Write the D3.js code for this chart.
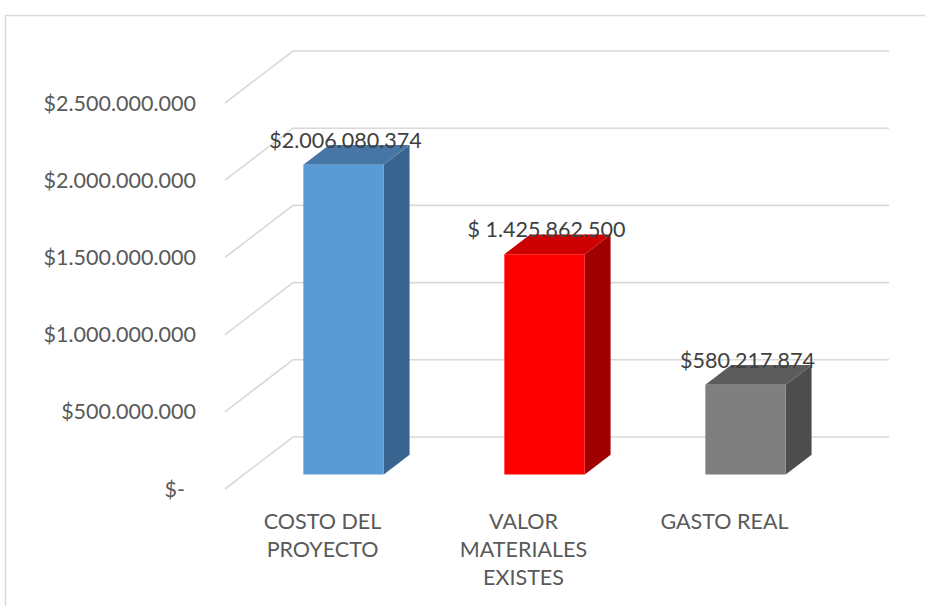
<!DOCTYPE html>
<html>
<head>
<meta charset="utf-8">
<script src="https://cdn.jsdelivr.net/npm/d3@7"></script>
<style>
  html, body { margin: 0; padding: 0; background: #fff; }
  svg { display: block; }
  text { font-family: Lato, "Open Sans", sans-serif; }
</style>
</head>
<body>
<svg id="chart" width="925" height="606"></svg>
<script>
// Project cost comparison (3D column chart)
const categories = ["COSTO DEL PROYECTO", "VALOR MATERIALES EXISTES", "GASTO REAL"];
const values = [2006080374, 1425862500, 580217874];
const valuePrefixes = ["$", "$ ", "$"];
const tickValues = [0, 500000000, 1000000000, 1500000000, 2000000000, 2500000000];
const tickLabels = ["$-", "$500.000.000", "$1.000.000.000", "$1.500.000.000", "$2.000.000.000", "$2.500.000.000"];
const frontColors = ["#5B9BD5", "#FF0000", "#7F7F7F"];
const topColors = ["#4676A6", "#CC0000", "#5C5C5C"];
const sideColors = ["#3A6490", "#A00000", "#4D4D4D"];

const svg = d3.select("#chart");
const FONT = 21.5;

// oblique depth projection
const DX = 68, DY = 52;
const zFront = 0.28, zBack = 0.66;
const proj = (px, py, z) => [px + DX * z, py - DY * z];

// wall extent on the front plane
const wallLeft = 225, wallRight = 821;

const x = d3.scaleBand().domain(categories).range([224, 827]).paddingInner(0.6).paddingOuter(0.3);
const y = d3.scaleLinear().domain([0, 2500000000]).range([489, 103]);

const fmt = d3.formatLocale({ decimal: ",", thousands: ".", grouping: [3], currency: ["$", ""] }).format(",.0f");

// chart area border
svg.append("rect")
  .attr("x", 5.5).attr("y", 15.5).attr("width", 940).attr("height", 620)
  .attr("fill", "none").attr("stroke", "#D9D9D9").attr("stroke-width", 1.5);

// gridlines: side wall and back wall
const grid = svg.append("g").attr("stroke", "#D9D9D9").attr("stroke-width", 1.6).attr("fill", "none");
tickValues.forEach(v => {
  const a = proj(wallLeft, y(v), 0), b = proj(wallLeft, y(v), 1), c = proj(wallRight, y(v), 1);
  grid.append("path").attr("d", `M${a[0]},${a[1]}L${b[0]},${b[1]}L${c[0]},${c[1]}`);
});

// value axis labels
svg.append("g").selectAll("text").data(tickValues).join("text")
  .attr("x", d => d === 0 ? 185 : 196)
  .attr("y", d => y(d))
  .attr("dy", "0.35em")
  .attr("text-anchor", "end")
  .attr("fill", "#595959")
  .attr("font-size", FONT)
  .text((d, i) => tickLabels[i]);

// bars
const bars = svg.append("g");
categories.forEach((c, i) => {
  const x0 = x(c), x1 = x(c) + x.bandwidth();
  const yb = y(0), yt = y(values[i]);
  const pts = (arr) => arr.map(p => proj(p[0], p[1], p[2]).join(",")).join(" ");
  // side face
  bars.append("polygon")
    .attr("points", pts([[x1, yb, zFront], [x1, yb, zBack], [x1, yt, zBack], [x1, yt, zFront]]))
    .attr("fill", sideColors[i]);
  // top face
  bars.append("polygon")
    .attr("points", pts([[x0, yt, zFront], [x1, yt, zFront], [x1, yt, zBack], [x0, yt, zBack]]))
    .attr("fill", topColors[i]);
  // front face
  bars.append("polygon")
    .attr("points", pts([[x0, yb, zFront], [x1, yb, zFront], [x1, yt, zFront], [x0, yt, zFront]]))
    .attr("fill", frontColors[i]);
  // value label
  const lp = proj((x0 + x1) / 2 + 2, yt - 17, zFront);
  svg.append("text")
    .attr("x", lp[0]).attr("y", lp[1])
    .attr("text-anchor", "middle")
    .attr("fill", "#404040")
    .attr("font-size", FONT)
    .text(valuePrefixes[i] + fmt(values[i]));
});

// category labels, wrapped
function wrapWords(text, width, size) {
  const words = text.split(" ");
  const lines = [];
  let line = "";
  const probe = svg.append("text").attr("font-size", size);
  words.forEach(w => {
    const t = line ? line + " " + w : w;
    probe.text(t);
    if (probe.node().getComputedTextLength() > width && line) { lines.push(line); line = w; }
    else line = t;
  });
  lines.push(line);
  probe.remove();
  return lines;
}
categories.forEach(c => {
  const lines = wrapWords(c, 140, FONT);
  const t = svg.append("text")
    .attr("text-anchor", "middle")
    .attr("fill", "#595959")
    .attr("font-size", FONT);
  lines.forEach((l, k) => {
    t.append("tspan").attr("x", x(c) + x.bandwidth() / 2 - 2).attr("y", 529 + k * 28).text(l);
  });
});
</script>
</body>
</html>
